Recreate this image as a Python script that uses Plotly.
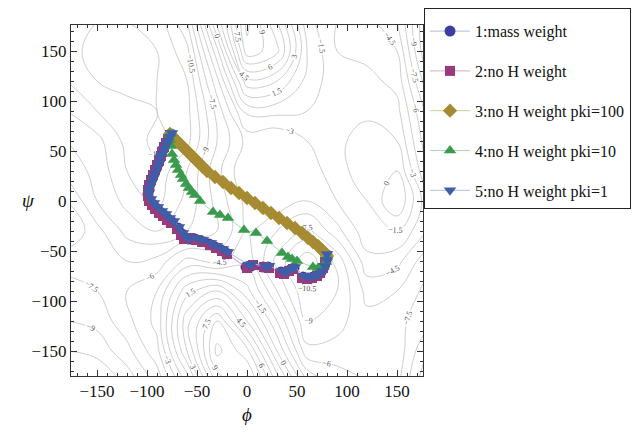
import plotly.graph_objects as go

# ---------------- data ----------------
# free-energy surface, coarse grid read from contour labels (phi columns, psi rows -180..180)
grid = [-180, -150, -120, -90, -60, -30, 0, 30, 60, 90, 120, 150, 180]
fes_phi_m180 = [-12, -10.5, -9, -8, -7, -4.5, -6, -8, -9, -10.5, -12, -13, -12]
fes_phi_m150 = [-12, -10, -8.5, -7.5, -7, -7, -9, -9.5, -10, -12, -13.5, -14, -13.5]
fes_phi_m120 = [-10, -8, -6.5, -6, -7.5, -9.5, -11, -12, -12.5, -13, -14, -14, -13.5]
fes_phi_m90 = [-7, -5, -4, -4.5, -7, -10.5, -12.5, -13, -14, -13.5, -13.5, -13.5, -13]
fes_phi_m60 = [-1, 3, 4, 1, -4, -9, -10, -10.5, -12.5, -12.5, -12, -11, -9]
fes_phi_m30 = [8, 11, 9, 3, -5, -7.5, -7, -6.5, -7.5, -7, -5, -2, 2]
fes_phi_0 = [11, 8, 3, -1, -3.5, -4.5, -4, -3, -4, -1, 4, 10, 11]
fes_phi_30 = [4, 0, -3, -6, -8, -6, -3.5, -3, -4.5, -1, 3, 8, 6]
fes_phi_60 = [-3, -7, -9, -10.5, -11.5, -8, -4.5, -3.5, -3, -1.5, -0.5, 0, -1]
fes_phi_90 = [-5, -7, -8, -9, -8.5, -5, -3, -2.5, -2, -1.5, -2.5, -3, -3]
fes_phi_120 = [-6, -6, -6.5, -5.5, -3.5, -2, -1.5, 0, -0.5, -2, -2.5, -3.5, -4]
fes_phi_150 = [-7, -6.5, -7, -6, -4, -1.5, 1.5, 0, -1.5, -2.5, -3.5, -4.5, -6]
fes_phi_180 = [-12, -10.5, -8.5, -8, -7, -4.5, -4, -6, -7, -8, -10, -12, -12]

# path series
x1 = [-76,-78,-80,-82,-84,-86,-87,-89,-91,-93,-95,-97,-98,-99,-97,-95,-91,-87,-83,-79,-75,-69,-65,-63,-58,-52,-46,-38,-32,-26,-21,-1,4,16,21,34,38,43,47,56,61,66,71,74,77,79,80]
y1 = [67,63,59,55,51,46,42,37,32,27,22,17,12,7,1,-3,-7,-11,-14,-18,-21,-27,-33,-37,-38,-38,-40,-43,-46,-49,-52,-66,-65,-66,-66,-71,-72,-69,-67,-76,-77,-76,-74,-71,-66,-60,-54]
x2 = [-77,-79,-81,-83,-85,-86,-88,-90,-92,-94,-96,-98,-99,-99,-98,-95,-92,-88,-84,-80,-76,-70,-66,-63,-57,-51,-45,-37,-31,-25,-20,0,6,17,22,33,37,42,46,55,60,65,70,73,76,78,80]
y2 = [66,62,58,54,49,45,40,36,31,26,21,16,11,5,0,-4,-8,-12,-15,-19,-22,-28,-34,-38,-37,-39,-41,-44,-47,-50,-53,-67,-64,-66,-67,-72,-73,-70,-68,-77,-78,-77,-75,-72,-67,-61,-55]
x3 = [-77,-75,-72,-69,-66,-63,-60,-57,-54,-51,-48,-44,-40,-32,-24,-16,-8,0,8,16,24,32,40,48,55,61,66,71,75,78,80]
y3 = [67,65,62,59,56,53,50,47,44,41,38,34,30,24,19,13,8,3,-2,-7,-12,-17,-22,-27,-32,-37,-41,-45,-49,-52,-55]
x4 = [-77,-77,-76,-75,-73,-71,-69,-66,-64,-61,-58,-55,-52,-47,-34,-27,-19,-3,9,20,35,41,45,50,66,71,76,79,80]
y4 = [67,61,55,47,41,36,31,26,22,17,13,9,6,0,-11,-14,-17,-29,-32,-40,-52,-56,-58,-60,-66,-67,-65,-61,-56]
x5 = [-75,-77,-79,-81,-83,-85,-87,-88,-90,-92,-94,-96,-98,-98,-96,-93,-89,-85,-81,-77,-73,-68,-64,-61,-56,-50,-44,-36,-30,-24,-19,2,5,18,22,35,39,44,48,57,62,67,72,75,78,80,80]
y5 = [68,64,60,56,52,47,43,38,33,28,23,18,13,8,2,-2,-6,-10,-13,-17,-20,-26,-32,-36,-37,-37,-39,-42,-45,-48,-51,-64,-63,-65,-65,-70,-71,-68,-66,-75,-76,-75,-73,-70,-65,-59,-53]

names = ["1:mass weight", "2:no H weight", "3:no H weight pki=100",
         "4:no H weight pki=10", "5:no H weight pki=1"]
xticks = [-150, -100, -50, 0, 50, 100, 150]

# ---------------- figure ----------------
cols = [fes_phi_m180, fes_phi_m150, fes_phi_m120, fes_phi_m90, fes_phi_m60, fes_phi_m30,
        fes_phi_0, fes_phi_30, fes_phi_60, fes_phi_90, fes_phi_120, fes_phi_150, fes_phi_180]
z = [list(r) for r in zip(*cols)]

serif = "Liberation Serif, Times New Roman, serif"
fig = go.Figure()
fig.add_trace(go.Contour(
    x=grid, y=grid, z=z,
    contours=dict(start=-13.5, end=12, size=1.5, coloring="lines", showlabels=True,
                  labelfont=dict(size=8, color="#555555", family=serif)),
    line=dict(width=0.8, smoothing=1.2),
    colorscale=[[0, "#c2c2c2"], [1, "#c2c2c2"]], showscale=False,
    hoverinfo="skip", showlegend=False))

styles = [
    (x1, y1, "circle", 11, "#3b3ea0", "#b4b7e0"),
    (x2, y2, "square", 10, "#9b3a7a", "#dcaac4"),
    (x3, y3, "diamond", 11, "#a68b33", "#d8c88e"),
    (x4, y4, "triangle-up", 11, "#3a9a4d", "#a9d9b2"),
    (x5, y5, "triangle-down", 11, "#3d5ea8", "#aebde2"),
]
for i, (xs, ys, sym, sz, mc, lc) in enumerate(styles):
    fig.add_trace(go.Scatter(
        x=xs, y=ys, mode="lines+markers", name=names[i], legendgroup=str(i),
        marker=dict(symbol=sym, size=sz, color=mc),
        line=dict(color=lc, width=1)))

axis_common = dict(showgrid=False, zeroline=False, showline=True, linecolor="#333333",
                   linewidth=1, mirror="allticks", ticks="inside", ticklen=6,
                   tickcolor="#333333", tickvals=xticks,
                   tickfont=dict(family=serif, size=17, color="#111111"),
                   minor=dict(ticks="inside", ticklen=3, dtick=10, tickcolor="#333333",
                              tick0=0, showgrid=False))
fig.update_xaxes(range=[-176, 176], automargin=False, **axis_common)
fig.update_yaxes(range=[-175, 176], automargin=False, **axis_common)

# page body has an 8px margin, so the figure is sized/offset to compensate
W, H = 634, 424
fig.update_layout(
    width=W, height=H,
    margin=dict(l=63, r=219, t=17, b=56, autoexpand=False),
    paper_bgcolor="white", plot_bgcolor="white",
    font=dict(family=serif, color="#111111"),
    legend=dict(x=416 / W, y=1.0, xref="container", yref="container",
                xanchor="left", yanchor="top",
                bordercolor="#222222", borderwidth=1, bgcolor="white",
                font=dict(family=serif, size=16, color="#111111"),
                title=dict(text=" ", font=dict(size=4)),
                traceorder="grouped", tracegroupgap=16, itemwidth=40),
    annotations=[
        dict(text="<i>ψ</i>", x=-0.145, y=0.501, xref="paper", yref="paper",
             showarrow=False, font=dict(family=serif, size=19, color="#111111")),
        dict(text="<i>ϕ</i>", x=0.5, y=-0.145, xref="paper", yref="paper",
             showarrow=False, font=dict(family=serif, size=19, color="#111111")),
    ],
)

fig.write_html("out.html")
